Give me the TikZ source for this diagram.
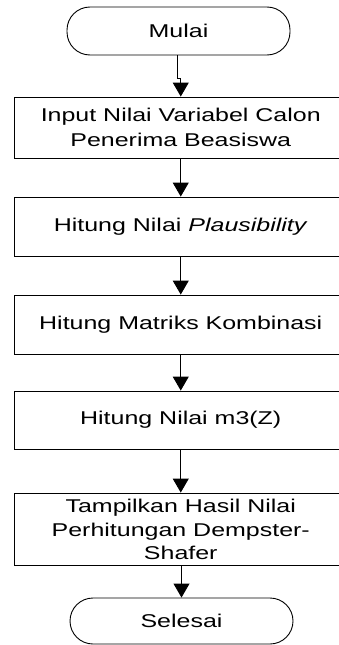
\documentclass[tikz,border=0pt]{standalone}
\usepackage{fontspec}
\setmainfont{Liberation Sans}[FakeStretch=1.35]
\usetikzlibrary{arrows.meta}
\tikzset{
  term/.style={draw, rounded corners=23pt, minimum width=223pt, inner sep=0pt, align=center},
  procbox/.style={draw, minimum width=332.5pt, inner sep=0pt, align=center},
  arr/.style={-{Triangle[length=14pt,width=16pt]}},
  every node/.style={font=\fontsize{18.5}{25}\selectfont},
}
\begin{document}
\begin{tikzpicture}[x=1pt,y=-1pt,line width=0.9pt]
\useasboundingbox (0,0) rectangle (339,645);
\clip (0,0) rectangle (339,645);
\node[term, minimum height=48pt] (mulai) at (178.5,31) {Mulai};
\node[procbox, minimum height=61pt] (b1) at (180.75,127.5) {Input Nilai Variabel Calon\\Penerima Beasiswa};
\node[procbox, minimum height=59pt] (b2) at (180.75,226.5) {Hitung Nilai \textit{Plausibility}};
\node[procbox, minimum height=59pt] (b3) at (180.75,324.5) {Hitung Matriks Kombinasi};
\node[procbox, minimum height=58pt] (b4) at (180.75,420) {Hitung Nilai m3(Z)};
\node[procbox, minimum height=72pt] (b5) at (180.75,529) {Tampilkan Hasil Nilai\\[-1pt]Perhitungan Dempster-\\[-2pt]Shafer};
\node[term, minimum height=46pt] (selesai) at (181.5,621) {Selesai};
\draw[arr] ([xshift=-1.5pt]mulai.south) -- ++(0,23) -| (b1.north);
\draw[arr] (b1) -- (b2);
\draw[arr] (b2) -- (b3);
\draw[arr] (b3) -- (b4);
\draw[arr] (b4) -- (b5);
\draw[arr] (b5.south -| selesai.north) -- (selesai.north);
\end{tikzpicture}
\end{document}
